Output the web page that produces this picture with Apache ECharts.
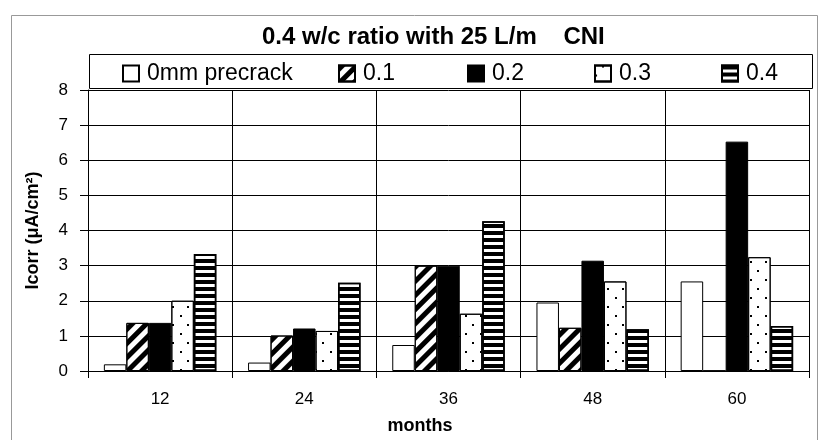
<!DOCTYPE html>
<html>
<head>
<meta charset="utf-8">
<script src="https://cdn.jsdelivr.net/npm/echarts@6/dist/echarts.min.js"></script>
<style>
html,body{margin:0;padding:0;background:#fff;}
#chart{width:818px;height:440px;}
</style>
</head>
<body>
<div id="chart"></div>
<script>
const categories = ['12', '24', '36', '48', '60'];
const seriesNames = ['0mm precrack', '0.1', '0.2', '0.3', '0.4'];
const precrack0 = [0.19, 0.24, 0.74, 1.95, 2.55];
const precrack01 = [1.37, 1.01, 3.0, 1.23, 0];
const precrack02 = [1.37, 1.21, 3.0, 3.14, 6.53];
const precrack03 = [2.0, 1.14, 1.63, 2.55, 3.24];
const precrack04 = [3.33, 2.51, 4.26, 1.19, 1.28];
const yTicks = [0, 1, 2, 3, 4, 5, 6, 7, 8];

const FONT = 'Liberation Sans, Arial, sans-serif';
const values = [precrack0, precrack01, precrack02, precrack03, precrack04];

const styles = [
  { color: '#fff', borderColor: '#000', borderWidth: 1 },
  { color: '#fff', borderColor: '#000', borderWidth: 1,
    decal: { symbol: 'rect', color: '#000', dashArrayX: [1, 0], dashArrayY: [4.5, 4.5], rotation: -Math.PI / 4 } },
  { color: '#000', borderColor: '#000', borderWidth: 1 },
  { color: '#fff', borderColor: '#000', borderWidth: 1,
    decal: { symbol: 'rect', symbolSize: 1, color: '#000', dashArrayX: [[1.5, 12.5], [0, 7, 1.5, 5.5]], dashArrayY: [1.5, 6.5], rotation: 0 } },
  { color: '#fff', borderColor: '#000', borderWidth: 1.5,
    decal: { symbol: 'rect', color: '#000', dashArrayX: [1, 0], dashArrayY: [4, 3], rotation: 0 } }
];

const legendLefts = [122, 338, 467, 594, 721];

const chart = echarts.init(document.getElementById('chart'), null, { renderer: 'canvas' });
chart.setOption({
  backgroundColor: '#fff',
  animation: false,
  title: {
    text: '0.4 w/c ratio with 25 L/m    CNI',
    left: 262, top: 25, padding: 0,
    textStyle: { fontFamily: FONT, fontSize: 24, fontWeight: 'bold', color: '#000' }
  },
  graphic: [
    { type: 'rect', left: 9, top: 13, shape: { width: 806, height: 440 }, style: { fill: 'none', stroke: '#999', lineWidth: 1 }, z: -1 },
    { type: 'rect', left: 89, top: 54, shape: { width: 723, height: 34 }, style: { fill: '#fff', stroke: '#000', lineWidth: 1 }, z: 0 }
  ],
  legend: seriesNames.map((n, i) => ({
    data: [n], left: legendLefts[i], top: 62, padding: 0,
    icon: 'rect',
    itemWidth: 16, itemHeight: 16, itemGap: 0,
    textStyle: { fontFamily: FONT, fontSize: 23, color: '#000', padding: [0, 0, 0, 3] },
    z: 5
  })),
  grid: { left: 88, right: 9, top: 90, bottom: 67 },
  xAxis: {
    type: 'category',
    data: categories,
    name: 'months',
    nameLocation: 'middle',
    nameGap: 46,
    nameTextStyle: { fontFamily: FONT, fontSize: 18, fontWeight: 'bold', color: '#000', padding: [0, 57, 0, 0] },
    axisLine: { lineStyle: { color: '#000', width: 1 } },
    axisTick: { show: true, length: 7, lineStyle: { color: '#000' } },
    axisLabel: { fontFamily: FONT, fontSize: 17, color: '#000', margin: 20 },
    splitLine: { show: true, lineStyle: { color: '#000', width: 1 } }
  },
  yAxis: {
    type: 'value',
    min: yTicks[0], max: yTicks[yTicks.length - 1], interval: 1,
    name: 'Icorr (μA/cm²)',
    nameLocation: 'middle',
    nameGap: 46,
    nameTextStyle: { fontFamily: FONT, fontSize: 18, fontWeight: 'bold', color: '#000' },
    axisLine: { show: true, lineStyle: { color: '#000', width: 1 } },
    axisTick: { show: true, length: 8, lineStyle: { color: '#000' } },
    axisLabel: { fontFamily: FONT, fontSize: 17, color: '#000', margin: 20 },
    splitLine: { show: true, lineStyle: { color: '#000', width: 1 } }
  },
  series: seriesNames.map((n, i) => ({
    name: n,
    type: 'bar',
    data: values[i],
    barGap: '0%',
    barCategoryGap: '22%',
    itemStyle: styles[i]
  }))
});
</script>
</body>
</html>
